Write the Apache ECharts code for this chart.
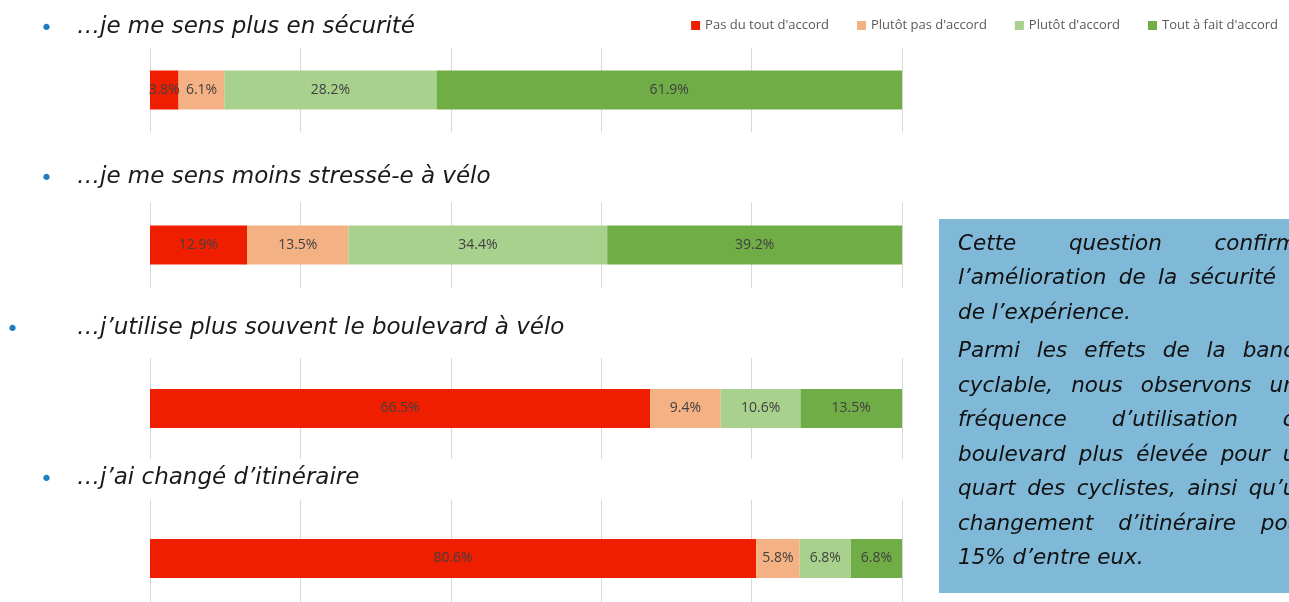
<!DOCTYPE html>
<html>
<head>
<meta charset="utf-8">
<script src="https://cdn.jsdelivr.net/npm/echarts@6/dist/echarts.min.js"></script>
<style>
  html, body { margin: 0; padding: 0; background: #fff; }
  #chart { width: 1289px; height: 602px; }
</style>
</head>
<body>
<div id="chart"></div>
<script>
// réponses (légende)
const answers = ["Pas du tout d'accord", "Plutôt pas d'accord", "Plutôt d'accord", "Tout à fait d'accord"];
const answerColors = ['#F01E00', '#F4B183', '#A9D18E', '#70AD47'];

// questions
const questions = [
  '…je me sens plus en sécurité',
  '…je me sens moins stressé-e à vélo',
  '…j’utilise plus souvent le boulevard à vélo',
  '…j’ai changé d’itinéraire'
];

// parts en % (ordre des réponses)
const securite = [3.8, 6.1, 28.2, 61.9];
const stress = [12.9, 13.5, 34.4, 39.2];
const boulevard = [66.5, 9.4, 10.6, 13.5];
const itineraire = [80.6, 5.8, 6.8, 6.8];
const shares = [securite, stress, boulevard, itineraire];

// encadré de commentaire
const boxParagraphs = [
  ['Cette question confirme', 'l’amélioration de la sécurité et', 'de l’expérience.'],
  ['Parmi les effets de la bande', 'cyclable, nous observons une', 'fréquence d’utilisation du',
   'boulevard plus élevée pour un', 'quart des cyclistes,  ainsi qu’un', 'changement d’itinéraire pour',
   '15% d’entre eux.']
];

// layout of the four small charts (bars) + gridline area
const gridBoxes = [
  { top: 48, height: 84, lines: true },
  { top: 202, height: 86, lines: true },
  { top: 358, height: 101, lines: true },
  { top: 515, height: 87, lines: false }
];
const titleY = [27, 177, 328, 478];
const bulletX = [40, 40, 6, 40];

const myChart = echarts.init(document.getElementById('chart'), null, { renderer: 'canvas' });

const splitStyle = { lineStyle: { color: '#D9D9D9', width: 1 } };
const grids = [], xAxes = [], yAxes = [], series = [];
gridBoxes.forEach((g, i) => {
  grids.push({ left: 150, width: 752, top: g.top, height: g.height });
  xAxes.push({
    type: 'value', gridIndex: i, min: 0, max: 100, interval: 20,
    axisLine: { show: false }, axisTick: { show: false }, axisLabel: { show: false },
    splitLine: Object.assign({ show: g.lines }, splitStyle)
  });
  yAxes.push({
    type: 'category', gridIndex: i, data: [questions[i]],
    axisLine: { show: false }, axisTick: { show: false }, axisLabel: { show: false }
  });
  answers.forEach((a, k) => {
    series.push({
      name: a,
      type: 'bar',
      xAxisIndex: i,
      yAxisIndex: i,
      stack: 'q' + i,
      barWidth: 39,
      data: [shares[i][k]],
      itemStyle: { color: answerColors[k] },
      label: {
        show: true,
        position: 'inside',
        color: '#404040',
        fontSize: 14,
        fontFamily: 'Open Sans',
        formatter: p => p.value.toFixed(1) + '%'
      },
      emphasis: { disabled: true },
      animation: false
    });
  });
});

// gridlines of the last chart run up to the bottom edge
grids.push({ left: 150, width: 752, top: 500, height: 102 });
xAxes.push({
  type: 'value', gridIndex: 4, min: 0, max: 100, interval: 20,
  axisLine: { show: false }, axisTick: { show: false }, axisLabel: { show: false },
  splitLine: splitStyle, z: 0
});
yAxes.push({ type: 'value', gridIndex: 4, show: false, splitLine: { show: false } });

// graphic texts
const graphics = [];
const titleFont = 'oblique 23px "DejaVu Sans"';
questions.forEach((q, i) => {
  graphics.push({
    type: 'text', x: bulletX[i], y: titleY[i] + 2,
    style: { text: '•', font: '22px "DejaVu Sans"', fill: '#1F7EC1', verticalAlign: 'middle' }
  });
  graphics.push({
    type: 'text', x: 77, y: titleY[i],
    style: { text: q, font: titleFont, fill: '#1A1A1A', verticalAlign: 'middle' }
  });
});

graphics.push({
  type: 'rect', shape: { x: 939, y: 219, width: 400, height: 374 },
  style: { fill: '#7FB9D7' }, z: -1
});

// justified paragraph lines
const boxFont = 'oblique 21.5px "DejaVu Sans"';
const ctx = document.createElement('canvas').getContext('2d');
ctx.font = boxFont;
const boxLeft = 958, boxRight = 1310;
let lineY = 244;
boxParagraphs.forEach((para, pi) => {
  if (pi > 0) lineY += 4;
  para.forEach((line, li) => {
    const words = line.split(' ').filter(w => w.length);
    const last = li === para.length - 1;
    if (last || words.length < 2) {
      graphics.push({
        type: 'text', x: boxLeft, y: lineY,
        style: { text: line, font: boxFont, fill: '#111', verticalAlign: 'middle' }
      });
    } else {
      const widths = words.map(w => ctx.measureText(w).width);
      const total = widths.reduce((s, w) => s + w, 0);
      const gap = Math.max(6, (boxRight - boxLeft - total) / (words.length - 1));
      let x = boxLeft;
      words.forEach((w, wi) => {
        graphics.push({
          type: 'text', x: x, y: lineY,
          style: { text: w, font: boxFont, fill: '#111', verticalAlign: 'middle' }
        });
        x += widths[wi] + gap;
      });
    }
    lineY += 34.5;
  });
});

const option = {
  backgroundColor: '#fff',
  animation: false,
  legend: {
    data: answers,
    right: 6,
    top: 14,
    itemWidth: 9,
    itemHeight: 9,
    itemGap: 28,
    icon: 'rect',
    textStyle: { color: '#595959', fontSize: 13, fontFamily: 'Open Sans' },
    selectedMode: false
  },
  grid: grids,
  xAxis: xAxes,
  yAxis: yAxes,
  series: series,
  graphic: { elements: graphics }
};

myChart.setOption(option);
</script>
</body>
</html>
